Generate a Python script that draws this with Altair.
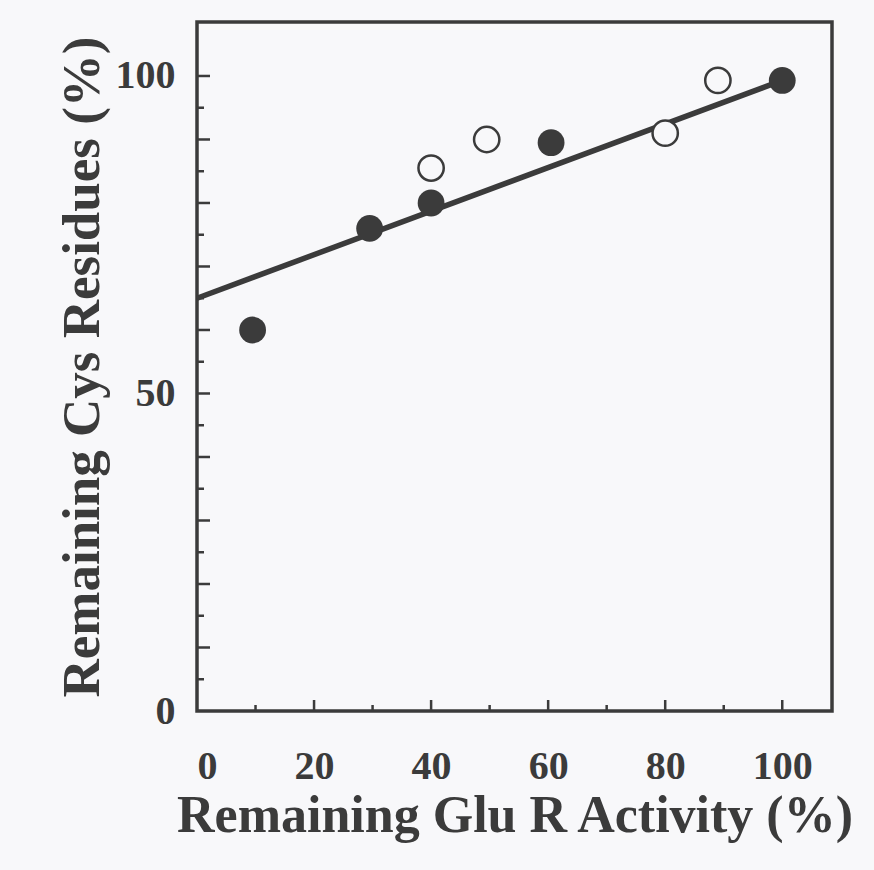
import altair as alt
import pandas as pd

# data
filled_x = [9.5, 29.5, 40, 60.5, 100]
filled_y = [60, 76, 80, 89.5, 99.3]
open_x = [40, 49.5, 80, 89]
open_y = [85.5, 90, 91, 99.3]
fit_x = [0, 100]
fit_y = [65, 99.3]
x_labels = [0, 20, 40, 60, 80, 100]
y_labels = [0, 50, 100]
x_major = [20, 40, 60, 80, 100]
x_minor = [10, 30, 50, 70, 90]
y_major = [10, 20, 30, 40, 50, 60, 70, 80, 90, 100]
y_minor = [5, 15, 25, 35, 45, 55, 65, 75, 85, 95]

W, H = 635, 689
INK = "#3b3b3b"
BG = "#f8f8fa"
FONT = "Liberation Serif"
DOM = [0, 108.5]

xs = alt.Scale(domain=DOM, nice=False, zero=False)
ys = alt.Scale(domain=DOM, nice=False, zero=False)

xaxis = alt.Axis(values=x_labels, ticks=False, domain=False, grid=False,
                 labelFont=FONT, labelFontWeight="bold", labelFontSize=40,
                 labelColor=INK, labelPadding=35,
                 title="Remaining Glu R Activity (%)", titleFont=FONT,
                 titleFontWeight="bold", titleFontSize=52, titleColor=INK,
                 titlePadding=4)
yaxis = alt.Axis(values=y_labels, ticks=False, domain=False, grid=False,
                 labelFont=FONT, labelFontWeight="bold", labelFontSize=40,
                 labelColor=INK, labelPadding=22,
                 title="Remaining Cys Residues (%)", titleFont=FONT,
                 titleFontWeight="bold", titleFontSize=53, titleColor=INK,
                 titlePadding=6)

df_f = pd.DataFrame({"x": filled_x, "y": filled_y})
df_o = pd.DataFrame({"x": open_x, "y": open_y})
df_l = pd.DataFrame({"x": fit_x, "y": fit_y})

base_axes = alt.Chart(df_l).mark_line(strokeWidth=0, opacity=0).encode(
    x=alt.X("x:Q", scale=xs, axis=xaxis),
    y=alt.Y("y:Q", scale=ys, axis=yaxis),
)

line = alt.Chart(df_l).mark_line(color=INK, strokeWidth=5.5).encode(
    x=alt.X("x:Q", scale=xs), y=alt.Y("y:Q", scale=ys))

filled = alt.Chart(df_f).mark_point(filled=True, shape="circle", size=720,
                                     color=INK, opacity=1).encode(
    x=alt.X("x:Q", scale=xs), y=alt.Y("y:Q", scale=ys))

opened = alt.Chart(df_o).mark_point(filled=False, shape="circle", size=640,
                                     stroke=INK, strokeWidth=2.5, fill=BG,
                                     fillOpacity=1, opacity=1).encode(
    x=alt.X("x:Q", scale=xs), y=alt.Y("y:Q", scale=ys))

def yticks(vals, length):
    return alt.Chart(pd.DataFrame({"v": vals})).mark_rule(
        color=INK, strokeWidth=2.5).encode(
        y=alt.Y("v:Q", scale=ys), x=alt.value(0), x2=alt.value(length))

def xticks(vals, length):
    return alt.Chart(pd.DataFrame({"v": vals})).mark_rule(
        color=INK, strokeWidth=2.5).encode(
        x=alt.X("v:Q", scale=xs), y=alt.value(H), y2=alt.value(H - length))

chart = alt.layer(
    base_axes,
    yticks(y_major, 13), yticks(y_minor, 7),
    xticks(x_major, 11), xticks(x_minor, 6),
    line, opened, filled,
).properties(
    width=W, height=H,
    autosize=alt.AutoSizeParams(type="none"),
    padding={"left": 197, "top": 22, "right": 42, "bottom": 159},
    background=BG,
).configure_view(
    stroke=INK, strokeWidth=3.5, fill=BG
)

chart.save("out.html", embed_options={"renderer": "svg", "actions": False})
